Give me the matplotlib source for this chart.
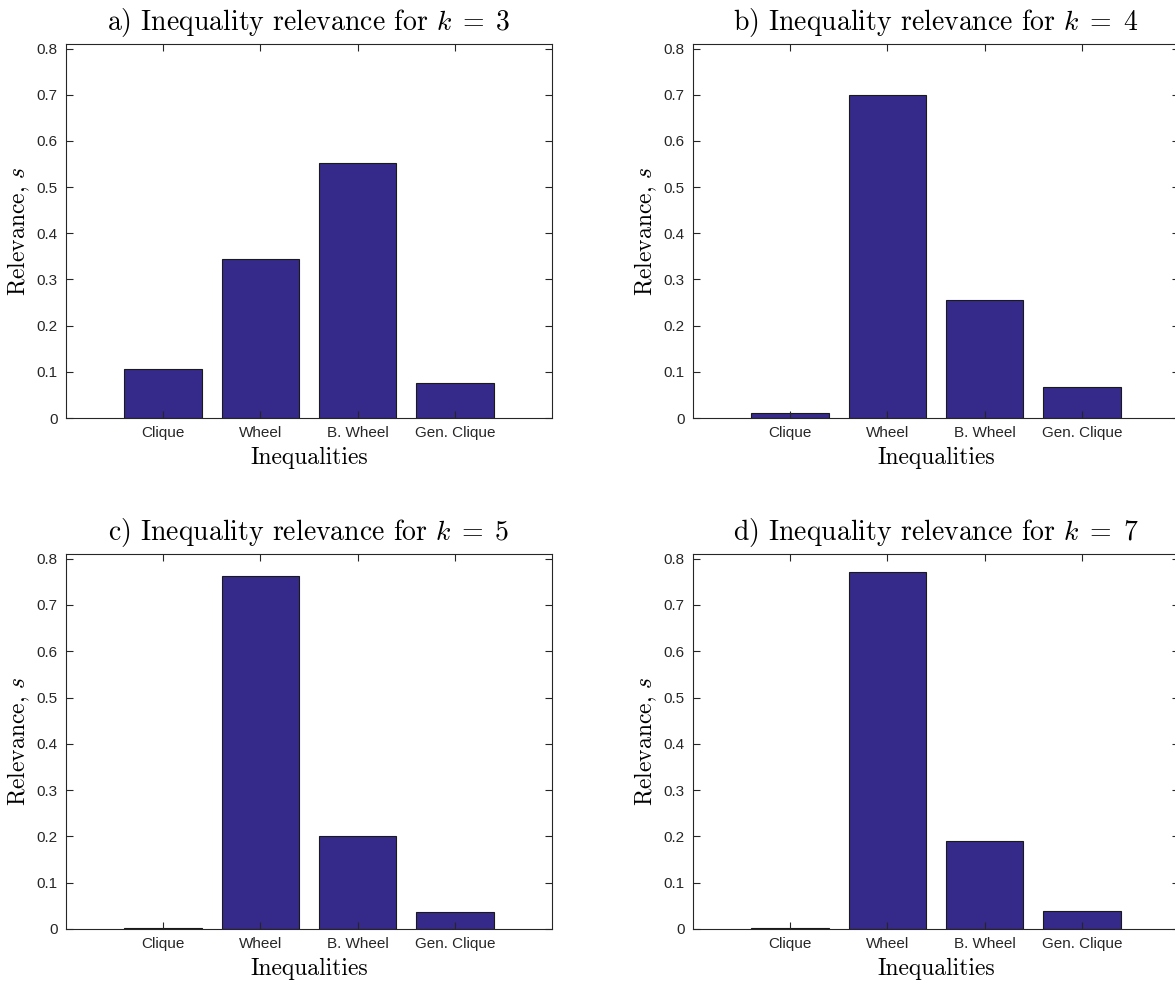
import matplotlib
matplotlib.use('Agg')
import matplotlib.pyplot as plt
import numpy as np

plt.rcParams['mathtext.fontset'] = 'cm'
plt.rcParams['axes.unicode_minus'] = False

categories = ['Clique', 'Wheel', 'B. Wheel', 'Gen. Clique']
k_values = [3, 4, 5, 7]
panel_tags = ['a)', 'b)', 'c)', 'd)']

relevance_k3 = [0.106, 0.344, 0.553, 0.076]
relevance_k4 = [0.011, 0.700, 0.255, 0.067]
relevance_k5 = [0.002, 0.763, 0.200, 0.037]
relevance_k7 = [0.002, 0.772, 0.190, 0.039]
relevance = [relevance_k3, relevance_k4, relevance_k5, relevance_k7]

bar_color = '#35298a'
axis_color = '#262626'

fig = plt.figure(figsize=(11.75, 9.82), dpi=100)

# axes boxes in figure fractions: [left, bottom, width, height]
W, H = 1175.0, 982.0
boxes = [
    [66 / W, 1 - 418 / H, 486 / W, 374 / H],
    [693 / W, 1 - 418 / H, 486 / W, 374 / H],
    [66 / W, 1 - 929 / H, 486 / W, 375 / H],
    [693 / W, 1 - 929 / H, 486 / W, 375 / H],
]

x = np.arange(1, len(categories) + 1)
for i, box in enumerate(boxes):
    ax = fig.add_axes(box)
    ax.bar(x, relevance[i], width=0.8, color=bar_color,
           edgecolor='#1a1a1a', linewidth=0.8, zorder=1)
    ax.set_xlim(0, 5)
    ax.set_ylim(0, 0.81)
    ax.set_xticks(x)
    ax.set_xticklabels(categories, fontfamily='Liberation Sans', fontsize=11)
    ax.set_yticks(np.arange(0, 0.81, 0.1))
    ax.set_yticklabels(['0', '0.1', '0.2', '0.3', '0.4', '0.5', '0.6', '0.7', '0.8'],
                       fontfamily='Liberation Sans', fontsize=11)
    ax.tick_params(direction='in', top=True, right=True, length=5,
                   width=0.8, color=axis_color, labelcolor=axis_color, pad=6)
    for sp in ax.spines.values():
        sp.set_color(axis_color)
        sp.set_linewidth(0.8)
    ax.set_axisbelow(False)
    ax.set_title(panel_tags[i] + ' Inequality relevance for $k\\;=\\;%d$' % k_values[i],
                 fontfamily='cmr10', fontsize=20, pad=10)
    ax.set_xlabel('Inequalities', fontfamily='cmr10', fontsize=17, labelpad=5)
    ax.set_ylabel('Relevance, $s$', fontfamily='cmr10', fontsize=17, labelpad=3)

fig.savefig('out.png', dpi=100)
